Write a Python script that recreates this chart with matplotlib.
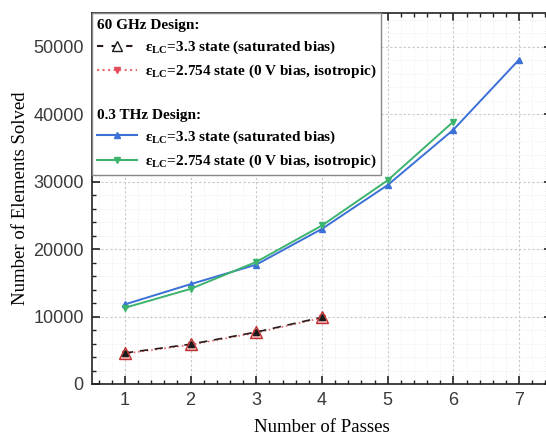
import matplotlib
matplotlib.use("Agg")
import matplotlib.pyplot as plt
from matplotlib.lines import Line2D
from matplotlib.ticker import MultipleLocator

plt.rcParams['mathtext.fontset'] = 'custom'
plt.rcParams['mathtext.rm'] = 'Liberation Serif:bold'
plt.rcParams['mathtext.bf'] = 'Liberation Serif:bold'

# dati
passes_60 = [1, 2, 3, 4]
ghz60_sat = [4600, 5900, 7700, 9900]
ghz60_iso = [4500, 5800, 7600, 9800]

passes_thz = [1, 2, 3, 4, 5, 6, 7]
thz_sat = [11800, 14800, 17700, 23000, 29500, 37700, 48100]
passes_thz_iso = [1, 2, 3, 4, 5, 6]
thz_iso = [11300, 14100, 18100, 23500, 30200, 38900]

lab_sat = r'ε$_{\mathbf{LC}}$=3.3 state (saturated bias)'
lab_iso = r'ε$_{\mathbf{LC}}$=2.754 state (0 V bias, isotropic)'

fig = plt.figure(figsize=(5.46, 4.37), dpi=100)
ax = fig.add_axes([92/546, 53/437, 460/546, 371/437])

blue = '#3b70d6'
green = '#3cb46e'

ax.plot(passes_60, ghz60_iso, linestyle=':', color='#e86a6a', marker='v',
        markersize=5, markerfacecolor='#e84a5a', markeredgecolor='#e84a5a', lw=1.2)
ax.plot(passes_60, ghz60_sat, linestyle='--', dashes=(5, 4), color='#2a1a1a', marker='^',
        markersize=8, markerfacecolor='#f4b8b8', markeredgecolor='#c03030', lw=1.2)
ax.plot(passes_60, ghz60_sat, linestyle='none', marker='^', markersize=4,
        color='#1a1a1a')
ax.plot(passes_thz, thz_sat, color=blue, marker='^', markersize=4.5, lw=1.4)
ax.plot(passes_thz_iso, thz_iso, color=green, marker='v', markersize=4.5, lw=1.4)

ax.set_xlim(0.5, 7.5)
ax.set_ylim(0, 55000)
ax.xaxis.set_major_locator(MultipleLocator(1))
ax.xaxis.set_minor_locator(MultipleLocator(0.2))
ax.yaxis.set_major_locator(MultipleLocator(10000))
ax.yaxis.set_minor_locator(MultipleLocator(2000))

ax.grid(True, which='major', color='#c8c8c8', linestyle=(0, (2, 2)), lw=0.8)
ax.grid(True, which='minor', color='#e8e8e8', linestyle=(0, (1, 2)), lw=0.6)
ax.set_axisbelow(True)

ax.tick_params(which='both', direction='in', top=True, right=True, color='#222222')
ax.tick_params(which='major', length=6, width=1.2, labelsize=13, labelcolor='#3a3a3a', pad=6)
ax.tick_params(which='minor', length=3, width=1)
for lab in ax.get_xticklabels() + ax.get_yticklabels():
    lab.set_fontfamily('Liberation Sans')
for s in ax.spines.values():
    s.set_linewidth(1.2)
    s.set_color('#222222')

ax.set_xlabel('Number of Passes', fontfamily='Liberation Serif', fontsize=13.5, labelpad=7)
ax.set_ylabel('Number of Elements Solved', fontfamily='Liberation Serif', fontsize=13.5, labelpad=3)

# legenda con titoli dei gruppi
blank = Line2D([], [], linestyle='none')
h_sat60 = Line2D([], [], linestyle='--', dashes=(3, 4), color='#2a1a1a', marker='^',
                 markersize=7, markerfacecolor='white', markeredgecolor='#1a1a1a')
h_iso60 = Line2D([], [], linestyle=':', color='#e86a6a', marker='v', markersize=5,
                 markerfacecolor='#e84a5a', markeredgecolor='#e84a5a')
h_satthz = Line2D([], [], color=blue, marker='^', markersize=4)
h_isothz = Line2D([], [], color=green, marker='v', markersize=4)

handles = [blank, h_sat60, h_iso60, blank, blank, h_satthz, h_isothz]
labels = ['60 GHz Design:', lab_sat, lab_iso, ' ', '0.3 THz Design:', lab_sat, lab_iso]
leg = ax.legend(handles, labels, loc='upper left', bbox_to_anchor=(0, 1),
                prop={'family': 'Liberation Serif', 'weight': 'bold', 'size': 11},
                frameon=True, fancybox=False, edgecolor='#888888', framealpha=1,
                handlelength=2.6, handletextpad=0.5, labelspacing=0.45,
                borderpad=0.35, borderaxespad=0)
leg.get_frame().set_linewidth(1.0)

# titoli allineati a sinistra (senza spazio per il simbolo)
rows = leg._legend_handle_box.get_children()[0].get_children()
for i in (0, 3, 4):
    rows[i].sep = 0
    rows[i].get_children()[0].width = 0

fig.savefig('out.png', dpi=100)
